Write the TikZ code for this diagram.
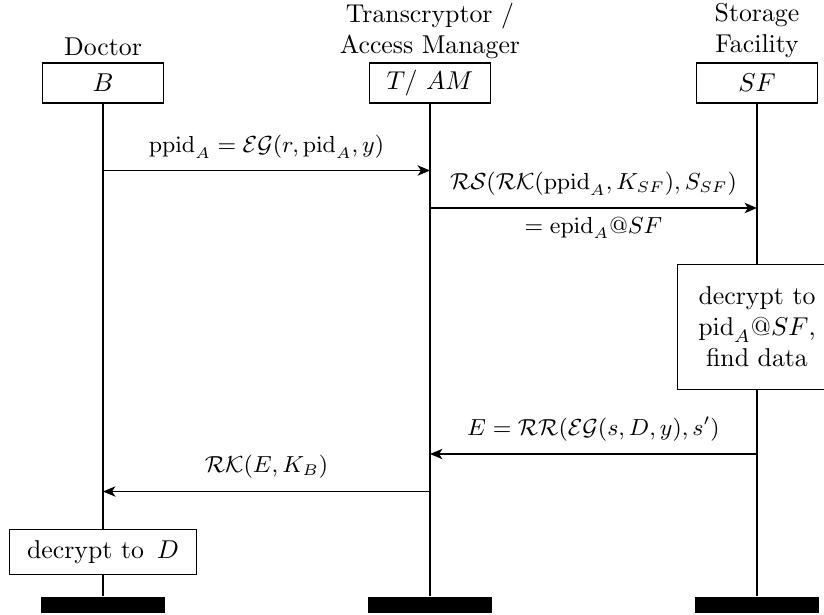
\documentclass[tikz,border=0pt]{standalone}
\usetikzlibrary{arrows.meta}
\begin{document}
\begin{tikzpicture}[x=0.3876pt,y=-0.3876pt,
  inst/.style={draw, line width=0.4pt, minimum width=47pt, minimum height=15.5pt, inner sep=0pt, fill=white},
  act/.style={draw, line width=0.4pt, fill=white, align=center, inner sep=0pt},
  life/.style={line width=0.8pt},
  msg/.style={line width=0.6pt, -{Stealth[length=4.8pt,width=4pt,inset=1.3pt]}},
  term/.style={fill=black, minimum width=47.7pt, minimum height=6.2pt, inner sep=0pt},
  lbl/.style={inner sep=0pt, align=center},
  mlbl/.style={inner sep=0pt, font=\small}]
\path[use as bounding box, clip] (0,0) rectangle (824,614);
% headers
\node[lbl] (hB) at (103,47) {Doctor};
\node[lbl] (hT) at (430,31) {Transcryptor /\\Access Manager};
\node[lbl] (hS) at (757,31) {Storage\\Facility};
% instance boxes
\node[inst] (B) at (103,83) {$B$};
\node[inst] (T) at (430,83) {$T/\ AM$};
\node[inst] (S) at (757,83) {$SF$};
% terminators
\node[term] (Bt) at (103,605) {};
\node[term] (Tt) at (430,605) {};
\node[term] (St) at (757,605) {};
% actions
\node[act, minimum width=72.5pt, minimum height=17.8pt] (dD) at (103,552) {decrypt to\,\ $D$};
\node[act, minimum width=62pt, minimum height=48.8pt] (dS) at (757,327) {decrypt to\\$\mathrm{pid}_A@SF$,\\find data};
% lifelines
\draw[life] (B.south) -- (dD.north);
\draw[life] (dD.south) -- (Bt.north);
\draw[life] (T.south) -- (Tt.north);
\draw[life] (S.south) -- (dS.north);
\draw[life] (dS.south) -- (St.north);
% message levels
\coordinate (y1) at (0,170.5);
\coordinate (y2) at (0,208);
\coordinate (y3) at (0,454);
\coordinate (y4) at (0,491.5);
\draw[msg] (B |- y1) -- (T |- y1);
\node[mlbl] (l1) at (266.5,147) {$\mathrm{ppid}_A = \mathcal{EG}(r, \mathrm{pid}_A, y)$};
\draw[msg] (T |- y2) -- (S |- y2);
\node[mlbl] (l2a) at (593.5,184) {$\mathcal{RS}(\mathcal{RK}(\mathrm{ppid}_A, K_{SF}), S_{SF})$};
\node[mlbl] (l2b) at (593.5,228) {$= \mathrm{epid}_A@SF$};
\draw[msg] (S |- y3) -- (T |- y3);
\node[mlbl] (l3) at (593.5,429) {$E = \mathcal{RR}(\mathcal{EG}(s, D, y), s')$};
\draw[msg] (T |- y4) -- (B |- y4);
\node[mlbl] (l4) at (266.5,467) {$\mathcal{RK}(E, K_B)$};
\end{tikzpicture}
\end{document}
